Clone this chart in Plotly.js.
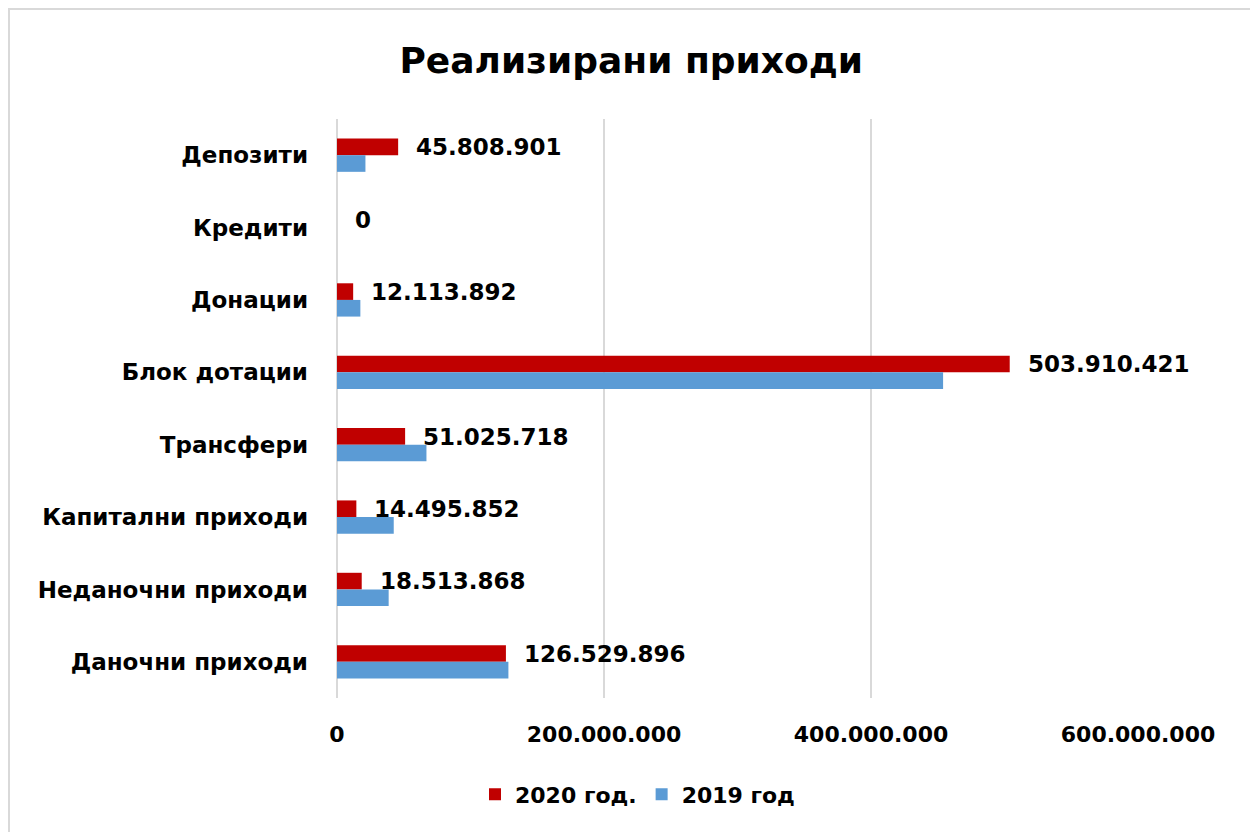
<!DOCTYPE html>
<html>
<head>
<meta charset="utf-8">
<script src="https://cdn.plot.ly/plotly-3.0.1.min.js"></script>
<style>
html,body{margin:0;padding:0;background:#fff;overflow:hidden;}
#chart{position:absolute;left:0;top:0;width:1250px;height:832px;}
#frame{position:absolute;left:8px;top:8px;width:1260px;height:840px;border:2px solid #d9d9d9;pointer-events:none;box-sizing:border-box;}
</style>
</head>
<body>
<div id="chart"></div>
<div id="frame"></div>
<script>
const categories = ["Депозити","Кредити","Донации","Блок дотации","Трансфери","Капитални приходи","Неданочни приходи","Даночни приходи"];
const values2020 = [45808901, 0, 12113892, 503910421, 51025718, 14495852, 18513868, 126529896];
const values2019 = [21300000, 0, 17500000, 454000000, 67000000, 42500000, 38700000, 128400000];
const seriesNames = ["2020 год.", "2019 год"];
const tickValues = [0, 200000000, 400000000, 600000000];
const tickLabels = ["0", "200.000.000", "400.000.000", "600.000.000"];

function fmt(v){ return String(v).replace(/\B(?=(\d{3})+(?!\d))/g, "."); }

const FONT = "DejaVu Sans";

const traces = [
  {type:"bar", orientation:"h", name:seriesNames[0], y:categories, x:values2020,
   marker:{color:"#C00000"}, hoverinfo:"skip"},
  {type:"bar", orientation:"h", name:seriesNames[1], y:categories, x:values2019,
   marker:{color:"#5B9BD5"}, hoverinfo:"skip"}
];

const annotations = categories.map((c,i)=>({
  x: values2020[i], y: c, xref:"x", yref:"y",
  text: fmt(values2020[i]), showarrow:false,
  xanchor:"left", yanchor:"middle", xshift:16, yshift:8,
  font:{family:FONT, size:23, color:"#000", weight:"bold"}
}));

const layout = {
  width:1250, height:832,
  paper_bgcolor:"#fff", plot_bgcolor:"#fff",
  margin:{l:337, r:112, t:119, b:134},
  title:{text:"<b>Реализирани приходи</b>", x:0.505, xanchor:"center", y:0.928, yanchor:"middle",
         font:{family:FONT, size:36, color:"#000"}},
  barmode:"group", bargap:0.54, bargroupgap:0,
  xaxis:{range:[0,600000000], tickvals:tickValues, ticktext:tickLabels,
         showgrid:true, gridcolor:"#d9d9d9", gridwidth:2,
         zeroline:true, zerolinecolor:"#d9d9d9", zerolinewidth:2, showline:false,
         ticks:"", ticklabelstandoff:21,
         tickfont:{family:FONT, size:22, color:"#000", weight:"bold"}},
  yaxis:{type:"category", autorange:"reversed", showgrid:false, zeroline:false, showline:false,
         ticks:"", ticklabelstandoff:28,
         tickfont:{family:FONT, size:23, color:"#000", weight:"bold"}},
  showlegend:true,
  legend:{orientation:"h", xref:"container", yref:"container", x:0.51, xanchor:"center", y:0.045, yanchor:"middle",
          font:{family:FONT, size:22, color:"#000", weight:"bold"}, itemwidth:30, traceorder:"normal"},
  annotations: annotations
};

Plotly.newPlot("chart", traces, layout, {displayModeBar:false, staticPlot:true});
</script>
</body>
</html>
